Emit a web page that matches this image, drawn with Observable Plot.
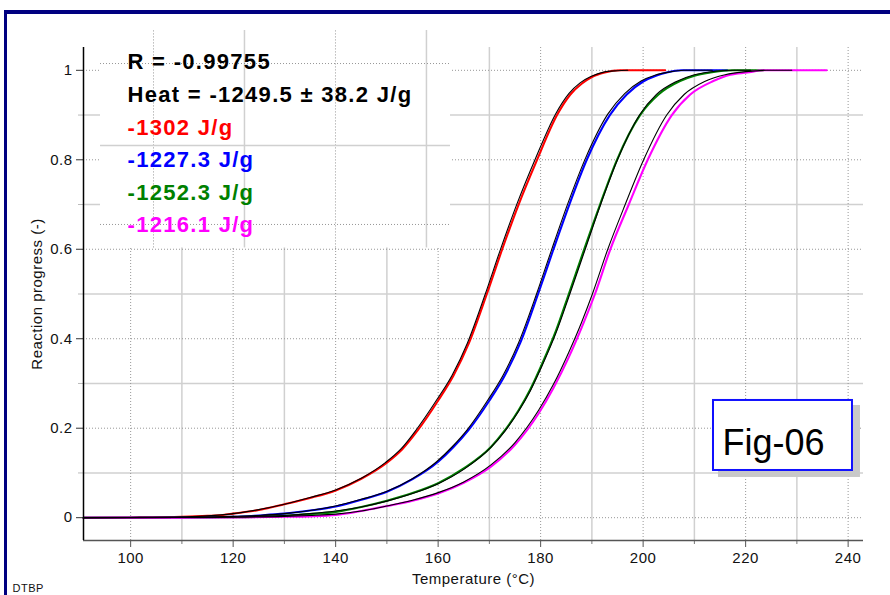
<!DOCTYPE html>
<html><head><meta charset="utf-8">
<script src="https://cdn.jsdelivr.net/npm/d3@7"></script>
<script src="https://cdn.jsdelivr.net/npm/@observablehq/plot@0.6"></script>
<style>
html,body{margin:0;padding:0;background:#fff;}
#wrap{position:relative;width:890px;height:595px;overflow:hidden;}
.frame{position:absolute;background:#000080;}
#wrap svg{position:absolute;left:0;top:0;}
#wrap svg text{letter-spacing:0.5px;}
#wrap svg g[font-weight="bold"] text{letter-spacing:1.3px;}
#wrap svg g[font-size="36"] text{letter-spacing:0px;}
</style></head>
<body>
<div id="wrap">
  <div class="frame" style="left:4px;top:10px;width:886px;height:3.5px"></div>
  <div class="frame" style="left:3.5px;top:10px;width:3.5px;height:585px"></div>
</div>
<script>
// ---------- data (temperature °C, reaction progress) ----------
const red = [[90.8,0],[100,0.0005],[110,0.002],[115,0.004],[118,0.006],[120,0.009],[125,0.017],[130,0.03],[135,0.044],[140,0.061],[145,0.087],[150,0.123],[153,0.153],[156,0.195],[160,0.262],[163,0.318],[166,0.39],[169.5,0.5],[172.5,0.6],[175.7,0.7],[179.3,0.8],[183.2,0.9],[185.8,0.946],[188,0.97],[190,0.985],[192.5,0.995],[195.5,1],[204.3,1]];
const blue = [[90.8,0],[110,0.0005],[120,0.002],[125,0.005],[130,0.009],[135,0.016],[140,0.025],[145,0.04],[150,0.058],[155,0.086],[160,0.125],[163,0.158],[166,0.197],[170,0.262],[173,0.318],[176,0.39],[179.5,0.5],[182.5,0.6],[185.6,0.7],[189,0.8],[193.5,0.9],[196.8,0.946],[200,0.975],[202.5,0.988],[204.6,0.995],[207.5,1],[216.4,1]];
const green = [[90.8,0],[110,0.0003],[120,0.001],[130,0.004],[135,0.008],[140,0.013],[145,0.024],[150,0.038],[155,0.055],[160,0.077],[165,0.11],[170.3,0.158],[173,0.195],[175.7,0.24],[178,0.287],[180.3,0.344],[183,0.418],[185.5,0.5],[188.5,0.6],[191.6,0.7],[194.9,0.8],[199.4,0.9],[203,0.946],[207.2,0.976],[210,0.988],[213.1,0.995],[217.5,1],[223.5,1]];
const magenta = [[90.8,0],[110,0.0002],[120,0.0008],[130,0.002],[135,0.003],[140,0.006],[145,0.015],[150,0.026],[155,0.038],[160,0.054],[165,0.078],[170.3,0.114],[175,0.163],[179.6,0.233],[182.5,0.29],[185.5,0.359],[188,0.425],[190.6,0.5],[193.6,0.6],[197.2,0.7],[200.9,0.8],[205.6,0.9],[209.2,0.946],[213.7,0.976],[217,0.99],[220.3,0.995],[223.5,1],[235.8,1]];

// fitted (black) curves
const redFit = [[90.8,0],[100,0.0005],[110,0.002],[115,0.004],[120,0.009],[125,0.018],[130,0.03],[135,0.045],[140,0.062],[145,0.088],[149.7,0.123],[152.7,0.153],[155.7,0.196],[159.7,0.263],[162.7,0.318],[165.7,0.39],[169.2,0.5],[172.2,0.601],[175.4,0.702],[179,0.803],[182.9,0.902],[185.5,0.948],[187.7,0.972],[189.8,0.986],[192.3,0.996],[195,0.999],[197,1]];
const blueFit = [[90.8,0],[110,0.0008],[120,0.003],[125,0.005],[130,0.009],[135,0.016],[140,0.026],[145,0.041],[149.8,0.058],[154.8,0.086],[159.7,0.125],[162.7,0.158],[165.7,0.197],[169.7,0.263],[172.7,0.319],[175.7,0.391],[179.2,0.5],[182.2,0.601],[185.3,0.702],[188.7,0.802],[193.1,0.902],[196.4,0.948],[199.6,0.976],[202.3,0.989],[205,0.996],[208,1],[213.5,1]];
const greenFit = [[90.8,0],[110,0.0005],[120,0.0015],[130,0.005],[135,0.009],[140,0.015],[145,0.024],[150,0.037],[155,0.054],[160,0.076],[165,0.108],[170.3,0.157],[173,0.193],[175.7,0.238],[178,0.284],[180.3,0.34],[183,0.413],[185.7,0.5],[188.7,0.6],[191.7,0.7],[195,0.8],[199.3,0.9],[202.6,0.946],[206.5,0.975],[210,0.99],[214,0.998],[218,1],[221,1]];
const magentaFit = [[90.8,0],[110,0.0003],[120,0.001],[130,0.003],[135,0.005],[140,0.008],[145,0.015],[150,0.026],[155,0.039],[160,0.056],[165,0.08],[170.3,0.118],[175,0.168],[179.6,0.24],[182.5,0.298],[185.5,0.37],[188,0.437],[190.1,0.5],[193.1,0.6],[196.5,0.7],[200.1,0.8],[204.6,0.9],[208,0.946],[212,0.975],[216,0.99],[220,0.997],[224,1],[229,1]];

const seriesColors = ["#ff0000", "#0000ff", "#008000", "#ff00ff"];
const heatLabels = ["-1302 J/g", "-1227.3 J/g", "-1252.3 J/g", "-1216.1 J/g"];
const statLabels = ["R = -0.99755", "Heat = -1249.5 \u00b1 38.2 J/g"];
const xMajor = [100, 120, 140, 160, 180, 200, 220, 240];
const xMinor = [110, 130, 150, 170, 190, 210, 230];
const yMajor = [0, 0.2, 0.4, 0.6, 0.8, 1];
const yMinor = [0.1, 0.3, 0.5, 0.7, 0.9];
const xTitle = "Temperature (\u00b0C)";
const yTitle = "Reaction progress (-)";
const figLabel = "Fig-06";
const sampleName = "DTBP";

// ---------- layout (in scale units) ----------
const xDomain = [90.8, 243];
const yDomain = [-0.051, 1.051];
const legendBox = {x1: 94.12, x2: 162.41, y1: 0.603, y2: 1.089};
const legendGridSolidX = [122.21, 157.72];
const legendGridDotX = [104.46, 139.97];
const legendGridSolidY = [0.832];
const legendGridDotY = [1.0152, 0.6554];
const legendTextX = 99.39;
const legendBaselines = [1.0034, 0.9287, 0.8559, 0.7834, 0.7106, 0.6381];
const figBox = {x1: 213.73, x2: 240.85, y1: 0.1055, y2: 0.262};
const figShadow = {x1: 214.7, x2: 242.41, y1: 0.0899, y2: 0.2508};
const figText = {x: 215.48, y: 0.1412};

const gridSolid = {stroke: "#d0d0d0", strokeWidth: 1.5};
const gridDot = {stroke: "#8c8c8c", strokeWidth: 1, strokeDasharray: "1 2", strokeOpacity: 0.9};
const fx = d => d[0], fy = d => d[1];

const marks = [
  Plot.ruleX(xMinor, gridSolid),
  Plot.ruleY(yMinor, gridSolid),
  Plot.ruleX(xMajor, gridDot),
  Plot.ruleY(yMajor, gridDot),
  // legend panel
  Plot.rect([legendBox], {x1: "x1", x2: "x2", y1: "y1", y2: "y2", fill: "white"}),
  Plot.ruleX(legendGridSolidX, {y1: legendBox.y1, y2: legendBox.y2, ...gridSolid}),
  Plot.ruleX(legendGridDotX, {y1: legendBox.y1, y2: legendBox.y2, ...gridDot}),
  Plot.ruleY(legendGridSolidY, {x1: legendBox.x1, x2: legendBox.x2, ...gridSolid}),
  Plot.ruleY(legendGridDotY, {x1: legendBox.x1, x2: legendBox.x2, ...gridDot}),
];

// measured curves
[red, blue, green, magenta].forEach((s, i) => {
  marks.push(Plot.line(s, {x: fx, y: fy, stroke: seriesColors[i], strokeWidth: 2.1, curve: "monotone-x"}));
});
// fitted curves
[redFit, blueFit, greenFit, magentaFit].forEach(s => {
  marks.push(Plot.line(s, {x: fx, y: fy, stroke: "#000", strokeWidth: 1.1, curve: "monotone-x"}));
});

// axes
marks.push(
  Plot.axisX(xMinor, {anchor: "bottom", tickSize: 4, stroke: "#777", tickFormat: () => "", label: null}),
  Plot.axisX(xMajor, {anchor: "bottom", tickSize: 7, tickPadding: 5, stroke: "#555", fill: "#111", fontSize: 15, tickFormat: d => String(d), label: null}),
  Plot.axisY(yMinor, {anchor: "left", tickSize: 5, stroke: "#bbb", tickFormat: () => "", label: null}),
  Plot.axisY(yMajor, {anchor: "left", tickSize: 7, tickPadding: 4, stroke: "#333", fill: "#111", fontSize: 15, tickFormat: d => String(Math.round(d * 10) / 10), label: null}),
  Plot.ruleY([yDomain[0]], {stroke: "#555", strokeWidth: 1.6}),
  Plot.ruleX([xDomain[0]], {stroke: "#000", strokeWidth: 1.5}),
  Plot.text([xTitle], {text: d => d, frameAnchor: "bottom", dy: 43, lineAnchor: "bottom", textAnchor: "middle", fontSize: 15, fill: "#111"}),
  Plot.text([yTitle], {text: d => d, frameAnchor: "left", dx: -46, rotate: -90, textAnchor: "middle", lineAnchor: "middle", fontSize: 15, fill: "#111"}),
  Plot.text([sampleName], {text: d => d, frameAnchor: "bottom-left", dx: -71, dy: 51, textAnchor: "start", lineAnchor: "bottom", fontSize: 11, fill: "#111"})
);

// legend text
const legendLines = [
  ...statLabels.map(t => ({t, c: "#000"})),
  ...heatLabels.map((t, i) => ({t, c: seriesColors[i]}))
];
legendLines.forEach((l, i) => {
  marks.push(Plot.text([l.t], {text: d => d, x: legendTextX, y: legendBaselines[i], textAnchor: "start", lineAnchor: "bottom", fontSize: 22, fontWeight: "bold", fill: l.c}));
});

// Fig-06 box
marks.push(
  Plot.rect([figShadow], {x1: "x1", x2: "x2", y1: "y1", y2: "y2", fill: "#c8c8c8"}),
  Plot.rect([figBox], {x1: "x1", x2: "x2", y1: "y1", y2: "y2", fill: "white", stroke: "#1010ff", strokeWidth: 2}),
  Plot.text([figLabel], {text: d => d, x: figText.x, y: figText.y, textAnchor: "start", lineAnchor: "bottom", fontSize: 36, fill: "#000"})
);

const plot = Plot.plot({
  width: 890,
  height: 595,
  marginLeft: 83,
  marginRight: 27,
  marginTop: 47,
  marginBottom: 55,
  x: {domain: xDomain},
  y: {domain: yDomain},
  style: {fontFamily: "'Liberation Sans', Arial, Helvetica, sans-serif", fontSize: "15px", background: "transparent", overflow: "visible"},
  marks
});
document.getElementById("wrap").appendChild(plot);
</script>
</body></html>
